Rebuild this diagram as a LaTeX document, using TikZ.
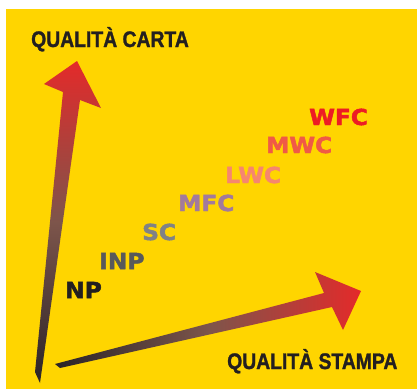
\documentclass[tikz,border=0pt]{standalone}
\usepackage{fontspec}
\usepackage{tikz}
\newfontfamily\axisfont[FakeStretch=0.86, BoldFeatures={FakeBold=1.2}]{Liberation Sans}
\newfontfamily\gradefont[FakeStretch=1.06, BoldFeatures={FakeBold=2.2}]{DejaVu Sans}
\definecolor{bgyellow}{HTML}{FFD500}
\definecolor{inkblack}{HTML}{231F20}
\definecolor{arrowdark}{HTML}{2A2427}
\definecolor{arrowmid}{HTML}{7D554B}
\definecolor{arrowred}{HTML}{E42A2A}
\definecolor{npcol}{HTML}{231F20}
\definecolor{inpcol}{HTML}{58595B}
\definecolor{sccol}{HTML}{808285}
\definecolor{mfccol}{HTML}{A27A9C}
\definecolor{lwccol}{HTML}{F6866F}
\definecolor{mwccol}{HTML}{F05A46}
\definecolor{wfccol}{HTML}{ED1C24}
\tikzset{
  axislabel/.style={anchor=base west, inner sep=0pt, text=inkblack,
    font=\axisfont\bfseries\fontsize{22.5}{22.5}\selectfont},
  gradelabel/.style={anchor=base west, inner sep=0pt,
    font=\gradefont\bfseries\fontsize{22}{22}\selectfont},
}

\begin{document}
\begin{tikzpicture}[x=1pt, y=-1pt]
\useasboundingbox (0,0) rectangle (417,389);
\fill[white] (0,0) rectangle (417,389);
\fill[bgyellow] (6,9) rectangle (417,389);

% vertical arrow
\shade[top color=arrowred, bottom color=arrowdark, middle color=arrowmid]
  (77,61)--(101,108)--(80,100)--(40,383)--(35,372)--(63,92)--(44,84)--cycle;
% horizontal arrow
\shade[left color=arrowdark, right color=arrowred, middle color=arrowmid]
  (55,364)--(324,293)--(315,272)--(361,291)--(343,330)--(332,307)--(60,368)--cycle;

\node[axislabel] (carta) at (31,47) {QUALITÀ CARTA};
\node[axislabel] (stampa) at (227,369) {QUALITÀ STAMPA};

\node[gradelabel, text=npcol] (np) at (65,298) {NP};
\node[gradelabel, text=inpcol] (inp) at (99,269) {INP};
\node[gradelabel, text=sccol] (sc) at (142,240) {SC};
\node[gradelabel, text=mfccol] (mfc) at (178,211) {MFC};
\node[gradelabel, text=lwccol] (lwc) at (225,183) {LWC};
\node[gradelabel, text=mwccol] (mwc) at (266,153) {MWC};
\node[gradelabel, text=wfccol] (wfc) at (309,125) {WFC};

\end{tikzpicture}
\end{document}
